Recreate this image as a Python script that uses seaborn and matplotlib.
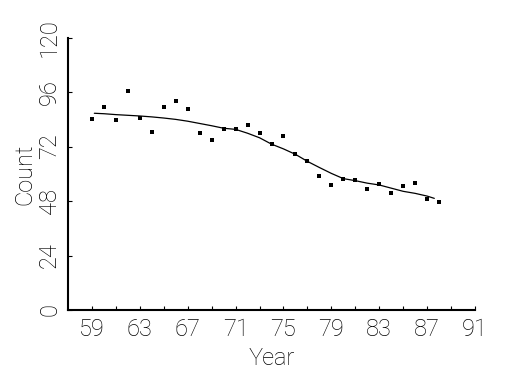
import numpy as np
import pandas as pd
import matplotlib
matplotlib.use("Agg")
import matplotlib.pyplot as plt
import seaborn as sns

# observed counts per year
years = np.arange(59, 89)
counts = [84.2, 89.3, 83.6, 96.4, 84.6, 78.4, 89.6, 92.0, 88.5, 78.0,
          74.9, 79.9, 79.9, 81.5, 78.0, 73.1, 76.7, 68.6, 65.5, 59.1,
          55.1, 57.9, 57.2, 53.2, 55.4, 51.4, 54.8, 56.0, 48.8, 47.4]

# smoothed trend
curve_years = [59.2, 60, 61, 62, 63, 64, 65, 66, 67, 68, 69, 70, 71, 72, 73,
               74, 75, 76, 77, 78, 79, 80, 81, 82, 83, 84, 85, 86, 87, 87.6]
curve_vals = [86.7, 86.5, 86.1, 85.8, 85.5, 85.1, 84.6, 84.0, 83.2, 82.2,
              81.2, 80.1, 79.6, 77.9, 75.9, 73.1, 71.0, 68.6, 65.5, 62.8,
              60.2, 57.9, 57.0, 55.9, 55.1, 53.7, 52.3, 51.4, 50.2, 49.2]

x_labels = [59, 63, 67, 71, 75, 79, 83, 87, 91]
x_minor = [61, 65, 69, 73, 77, 81, 85, 89]
y_labels = [0, 24, 48, 72, 96, 120]

pts = pd.DataFrame({"Year": years, "Count": counts})
trend = pd.DataFrame({"Year": curve_years, "Count": curve_vals})

sns.set_style("ticks")
plt.rcParams["font.family"] = ["Roboto", "DejaVu Sans"]
plt.rcParams["font.weight"] = "light"
plt.rcParams["axes.labelweight"] = "light"
plt.rcParams["axes.labelcolor"] = "black"
plt.rcParams["text.color"] = "black"

fig = plt.figure(figsize=(5.25, 3.75), dpi=100)
ax = fig.add_axes([68 / 525, 65 / 375, 407 / 525, 272.3 / 375])

sns.lineplot(data=trend, x="Year", y="Count", color="black", linewidth=0.9, ax=ax)
sns.scatterplot(data=pts, x="Year", y="Count", color="black", marker="s",
                s=5, linewidth=0, ax=ax)

ax.set_xlim(57, 91)
ax.set_ylim(0, 120)
ax.set_xticks(x_labels)
ax.set_xticks(x_minor, minor=True)
ax.set_yticks(y_labels)
ax.set_yticklabels([str(v) for v in y_labels], rotation=90, va="center")

ax.tick_params(which="both", direction="in", length=3, width=0.8,
               color="black", labelsize=17, labelcolor="black")
ax.tick_params(axis="x", pad=6)
ax.tick_params(axis="y", pad=5)

sns.despine(ax=ax)
for side in ["left", "bottom"]:
    ax.spines[side].set_linewidth(1.5)
    ax.spines[side].set_color("black")

ax.set_xlabel("Year", fontsize=17, labelpad=4, color="black")
ax.set_ylabel("Count", fontsize=17, labelpad=1, color="black")

fig.savefig("out.png", dpi=100)
